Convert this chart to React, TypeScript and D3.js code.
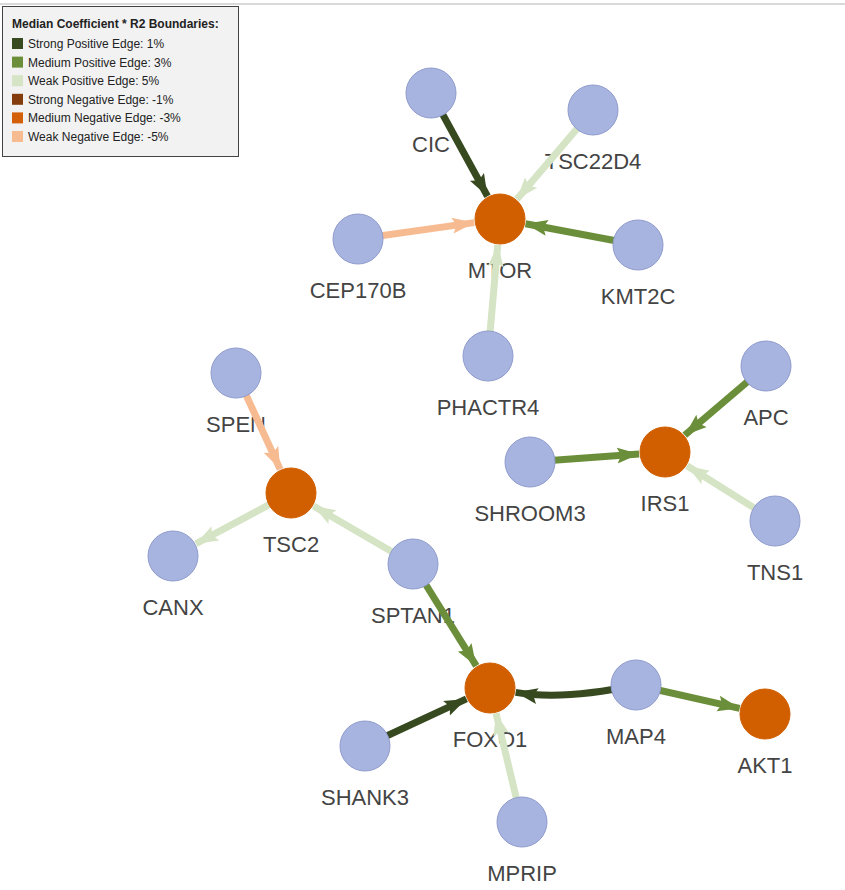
import React, { useEffect, useRef } from 'react';
import * as d3 from 'd3';

interface Node { id: string; x: number; y: number; hub: boolean; }
interface Link { source: string; target: string; kind: string; curve?: number; }

const nodes: Node[] = [
  { id: 'CIC', x: 431, y: 93, hub: false },
  { id: 'TSC22D4', x: 593, y: 110, hub: false },
  { id: 'CEP170B', x: 358, y: 239, hub: false },
  { id: 'MTOR', x: 500, y: 219, hub: true },
  { id: 'KMT2C', x: 638, y: 245, hub: false },
  { id: 'PHACTR4', x: 488, y: 356, hub: false },
  { id: 'SPEN', x: 236, y: 373, hub: false },
  { id: 'TSC2', x: 291, y: 493, hub: true },
  { id: 'CANX', x: 173, y: 556, hub: false },
  { id: 'SPTAN1', x: 413, y: 564, hub: false },
  { id: 'FOXO1', x: 490, y: 688, hub: true },
  { id: 'SHANK3', x: 365, y: 746, hub: false },
  { id: 'MPRIP', x: 522, y: 822, hub: false },
  { id: 'MAP4', x: 636, y: 685, hub: false },
  { id: 'AKT1', x: 765, y: 714, hub: true },
  { id: 'SHROOM3', x: 530, y: 462, hub: false },
  { id: 'IRS1', x: 665, y: 452, hub: true },
  { id: 'APC', x: 766, y: 366, hub: false },
  { id: 'TNS1', x: 775, y: 521, hub: false },
];

const links: Link[] = [
  { source: 'CIC', target: 'MTOR', kind: 'sp' },
  { source: 'TSC22D4', target: 'MTOR', kind: 'wp' },
  { source: 'CEP170B', target: 'MTOR', kind: 'wn' },
  { source: 'KMT2C', target: 'MTOR', kind: 'mp' },
  { source: 'PHACTR4', target: 'MTOR', kind: 'wp' },
  { source: 'SPEN', target: 'TSC2', kind: 'wn' },
  { source: 'TSC2', target: 'CANX', kind: 'wp' },
  { source: 'SPTAN1', target: 'TSC2', kind: 'wp' },
  { source: 'SPTAN1', target: 'FOXO1', kind: 'mp' },
  { source: 'SHANK3', target: 'FOXO1', kind: 'sp' },
  { source: 'MPRIP', target: 'FOXO1', kind: 'wp' },
  { source: 'MAP4', target: 'FOXO1', kind: 'sp', curve: 14 },
  { source: 'MAP4', target: 'AKT1', kind: 'mp' },
  { source: 'SHROOM3', target: 'IRS1', kind: 'mp' },
  { source: 'APC', target: 'IRS1', kind: 'mp' },
  { source: 'TNS1', target: 'IRS1', kind: 'wp' },
];

const legendKeys = ['sp', 'mp', 'wp', 'sn', 'mn', 'wn'];
const legendLabels = [
  'Strong Positive Edge: 1%', 'Medium Positive Edge: 3%', 'Weak Positive Edge: 5%',
  'Strong Negative Edge: -1%', 'Medium Negative Edge: -3%', 'Weak Negative Edge: -5%',
];
const edgeColors = ['#374a1f', '#6b8e3a', '#d5e4c4', '#843c0c', '#d35f08', '#f7bb92'];

export default function App() {
  const ref = useRef<SVGSVGElement>(null);

  useEffect(() => {
    const svg = d3.select(ref.current);
    svg.selectAll('*').remove();
    const color = d3.scaleOrdinal<string, string>().domain(legendKeys).range(edgeColors);
    const byId = new Map(nodes.map(n => [n.id, n]));
    const R = 25;

    svg.append('line').attr('x1', 0).attr('x2', 845).attr('y1', 4).attr('y2', 4)
      .attr('stroke', '#d9d9d9').attr('stroke-width', 2);

    const defs = svg.append('defs');
    legendKeys.forEach((k) => {
      defs.append('marker').attr('id', 'arr-' + k)
        .attr('markerUnits', 'userSpaceOnUse').attr('viewBox', '0 -9 22 18')
        .attr('refX', 22).attr('refY', 0).attr('markerWidth', 22).attr('markerHeight', 18)
        .attr('orient', 'auto')
        .append('path').attr('d', 'M0,-8L22,0L0,8L4,0Z').attr('fill', color(k));
    });

    // labels
    svg.append('g').selectAll('text').data(nodes).enter().append('text')
      .attr('x', d => d.x).attr('y', d => d.y + 59)
      .attr('text-anchor', 'middle').attr('font-family', 'Liberation Sans, Arial, sans-serif')
      .attr('font-size', 22).attr('fill', '#444').text(d => d.id);

    // edges
    svg.append('g').selectAll('path').data(links).enter().append('path')
      .attr('d', l => {
        const s = byId.get(l.source)!, t = byId.get(l.target)!;
        const c = l.curve || 0;
        const mx = (s.x + t.x) / 2, my = (s.y + t.y) / 2;
        const dx = t.x - s.x, dy = t.y - s.y, len = Math.hypot(dx, dy);
        const cx = mx + (dy / len) * c, cy = my - (dx / len) * c;
        const ex = t.x - cx, ey = t.y - cy, el = Math.hypot(ex, ey);
        const tx = t.x - (ex / el) * (R + 1), ty = t.y - (ey / el) * (R + 1);
        return c ? `M${s.x},${s.y}Q${cx},${cy} ${tx},${ty}` : `M${s.x},${s.y}L${tx},${ty}`;
      })
      .attr('fill', 'none').attr('stroke', l => color(l.kind)).attr('stroke-width', 7)
      .attr('marker-end', l => `url(#arr-${l.kind})`);

    // nodes
    svg.append('g').selectAll('circle').data(nodes).enter().append('circle')
      .attr('cx', d => d.x).attr('cy', d => d.y).attr('r', R)
      .attr('fill', d => d.hub ? '#d15f00' : '#a7b4e0')
      .attr('stroke', d => d.hub ? '#d15f00' : '#8f9bcc').attr('stroke-width', 1);

    // legend
    const lg = svg.append('g').attr('font-family', 'Liberation Sans, Arial, sans-serif');
    lg.append('rect').attr('x', 2.5).attr('y', 6.5).attr('width', 236).attr('height', 150)
      .attr('fill', '#f2f2f2').attr('stroke', '#444').attr('stroke-width', 1);
    lg.append('text').attr('x', 12).attr('y', 28).attr('font-size', 12).attr('font-weight', 'bold')
      .attr('fill', '#222').text('Median Coefficient * R2 Boundaries:');
    legendKeys.forEach((k, i) => {
      const y = 38 + i * 18.6;
      lg.append('rect').attr('x', 12).attr('y', y).attr('width', 11).attr('height', 11).attr('fill', color(k));
      lg.append('text').attr('x', 28).attr('y', y + 10).attr('font-size', 12).attr('fill', '#222')
        .text(legendLabels[i]);
    });
  }, []);

  return (
    <svg ref={ref} width={845} height={890}
      style={{ position: 'absolute', left: 0, top: 0, background: '#fff' }} />
  );
}
